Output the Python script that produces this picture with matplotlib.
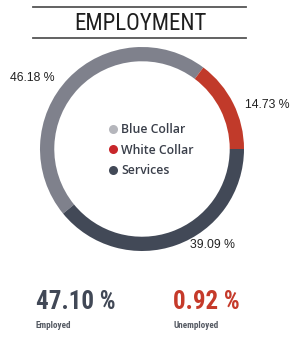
import matplotlib
matplotlib.use("Agg")
import matplotlib.pyplot as plt
from matplotlib import font_manager
from matplotlib.lines import Line2D

# ---- data ----
categories = ["Blue Collar", "White Collar", "Services"]
shares = [46.18, 14.73, 39.09]
employed_pct = 47.10
unemployed_pct = 0.92
title = "EMPLOYMENT"
bottom_labels = ["Employed", "Unemployed"]

# ---- style ----
ring_colors = ["#7f818c", "#c13a2a", "#424957"]
legend_colors = ["#b5b6bc", "#c8262b", "#424957"]
label_pos = [(-1.08, 0.70), (1.23, 0.43), (0.69, -0.94)]

names = {f.name for f in font_manager.fontManager.ttflist}
cond_family = None
cond_stretch = "normal"
for cand in ["Roboto Condensed", "Liberation Sans Narrow", "Open Sans Condensed", "DejaVu Sans Condensed"]:
    if cand in names:
        cond_family = cand
        break
if cond_family is None:
    if any("Condensed" in f.fname and "DejaVuSans" in f.fname for f in font_manager.fontManager.ttflist):
        cond_family = "DejaVu Sans"
        cond_stretch = "condensed"
    else:
        cond_family = "DejaVu Sans"
label_family = "Liberation Sans" if "Liberation Sans" in names else "DejaVu Sans"
legend_family = "Open Sans" if "Open Sans" in names else "DejaVu Sans"

W, H = 296, 339
fig = plt.figure(figsize=(W / 100, H / 100), dpi=100)
fig.patch.set_facecolor("white")

# donut
cx, cy, r = 142, 149, 102
ax = fig.add_axes([(cx - r) / W, (H - cy - r) / H, 2 * r / W, 2 * r / H])
start = 3.6 * (shares[0] + shares[1])
wedges, _ = ax.pie(shares, colors=ring_colors, startangle=start, counterclock=False,
                   radius=1, wedgeprops=dict(width=0.14, edgecolor="none"))
ax.set_xlim(-1, 1)
ax.set_ylim(-1, 1)
ax.set_aspect("equal")
ax.axis("off")

for v, (x, y) in zip(shares, label_pos):
    ax.text(x, y, f"{v:.2f} %", ha="center", va="center", fontsize=8.8,
            family=label_family, color="#222222", clip_on=False)

handles = [Line2D([], [], marker="o", ls="", markersize=6.5, color=c, markeredgewidth=0)
           for c in legend_colors]
leg = ax.legend(handles, categories, loc="center", bbox_to_anchor=(0.545, 0.495),
                frameon=False, handlelength=0.7, handletextpad=0.3, labelspacing=0.62,
                prop=dict(family=legend_family, weight="semibold", size=8.8))
for t in leg.get_texts():
    t.set_color("#3a3f4a")

# title with rules
fig.add_artist(Line2D([33 / W, 246 / W], [1 - 7 / H] * 2, color="#555555", lw=1.3))
fig.add_artist(Line2D([33 / W, 246 / W], [1 - 38 / H] * 2, color="#555555", lw=1.3))
fig.text(140.5 / W, 1 - 23 / H, title, ha="center", va="center", fontsize=16.5,
         family=cond_family, stretch=cond_stretch, color="#1e1e1e")

# bottom numbers
fig.text(36 / W, 1 - 302 / H, f"{employed_pct:.2f} %", ha="left", va="center",
         fontsize=18, weight="bold", family=cond_family, stretch=cond_stretch, color="#414856")
fig.text(173 / W, 1 - 302 / H, f"{unemployed_pct:.2f} %", ha="left", va="center",
         fontsize=18, weight="bold", family=cond_family, stretch=cond_stretch, color="#c53a2a")
fig.text(36 / W, 1 - 326 / H, bottom_labels[0], ha="left", va="center",
         fontsize=6.6, weight="bold", family=cond_family, stretch=cond_stretch, color="#555a63")
fig.text(173 / W, 1 - 326 / H, bottom_labels[1], ha="left", va="center",
         fontsize=6.6, weight="bold", family=cond_family, stretch=cond_stretch, color="#555a63")

fig.savefig("out.png", dpi=100, facecolor="white")
